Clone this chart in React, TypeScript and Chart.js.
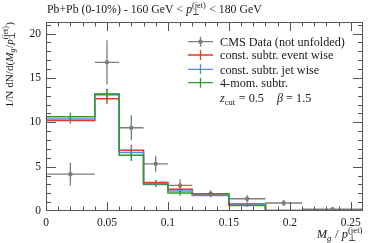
import React, { useEffect, useRef } from "react";
import { Chart, registerables } from "chart.js";

Chart.register(...registerables);

// ---- data ----
const binEdges = [0, 0.04, 0.06, 0.08, 0.1, 0.12, 0.15, 0.18, 0.21, 0.26];
const cmsData = [4.15, 16.75, 9.38, 5.32, 2.89, 1.95, 1.38, 0.9, 0.2];
const cmsErr = [1.3, 2.5, 1.42, 0.9, 0.7, 0.4, 0.4, 0.35, 0.2];
const eventWise = [10.2, 12.65, 6.86, 3.2, 2.44, 1.8, 0.78, 0.05, 0.02];
const eventWiseErr = [0.35, 0.6, 0.6, 0.3, 0.3, 0.2, 0.15, 0.05, 0.03];
const jetWise = [10.37, 13.2, 6.6, 3.0, 2.25, 1.76, 0.81, 0.05, 0.02];
const jetWiseErr = [0.35, 0.6, 0.6, 0.3, 0.3, 0.2, 0.15, 0.05, 0.03];
const fourMom = [10.63, 13.1, 6.29, 3.05, 2.02, 1.95, 0.62, 0.04, 0.02];
const fourMomErr = [0.45, 0.65, 0.65, 0.3, 0.3, 0.2, 0.15, 0.05, 0.03];

const xTicks = [0, 0.05, 0.1, 0.15, 0.2, 0.25];
const xTickLabels = ["0", "0.05", "0.1", "0.15", "0.2", "0.25"];
const yTicks = [0, 5, 10, 15, 20];
const yTickLabels = ["0", "5", "10", "15", "20"];
const xMinorStep = 0.01;
const yMinorStep = 1;
const xMin = 0;
const xMax = 0.26;
const yMin = 0;
const yMax = 21.3;

const legendLabels = [
  "CMS Data (not unfolded)",
  "const. subtr. event wise",
  "const. subtr. jet wise",
  "4-mom. subtr.",
];

// ---- styles ----
const GRAY = "rgb(125,125,125)";
const RED = "rgb(238,52,36)";
const BLUE = "rgb(84,136,240)";
const GREEN = "rgb(40,160,40)";
const TEXT = "#1a1a1a";
const AXIS = "#555";
const FAMILY = '"Liberation Serif", "DejaVu Serif", serif';

type Seg = { t?: string; it?: boolean; sub?: string; sup?: string; subIt?: boolean };

function fnt(size: number, it?: boolean) {
  return `${it ? "italic " : ""}${size}px ${FAMILY}`;
}

function segW(ctx: CanvasRenderingContext2D, s: Seg, size: number) {
  if (s.t !== undefined) {
    ctx.font = fnt(size, s.it);
    return ctx.measureText(s.t).width;
  }
  let w = 0;
  if (s.sub) {
    ctx.font = fnt(size * 0.7, s.subIt);
    w = Math.max(w, ctx.measureText(s.sub).width);
  }
  if (s.sup) {
    ctx.font = fnt(size * 0.7, false);
    w = Math.max(w, ctx.measureText(s.sup).width);
  }
  return w + 0.5;
}

function drawRich(
  ctx: CanvasRenderingContext2D,
  segs: Seg[],
  x: number,
  y: number,
  size: number,
  align: "left" | "right"
) {
  const total = segs.reduce((a, s) => a + segW(ctx, s, size), 0);
  let cx = align === "right" ? x - total : x;
  ctx.textAlign = "left";
  ctx.textBaseline = "alphabetic";
  ctx.fillStyle = TEXT;
  for (const s of segs) {
    const w = segW(ctx, s, size);
    if (s.t !== undefined) {
      ctx.font = fnt(size, s.it);
      ctx.fillText(s.t, cx, y);
    } else {
      if (s.sub) {
        ctx.font = fnt(size * 0.7, s.subIt);
        ctx.fillText(s.sub, cx, y + size * 0.22);
      }
      if (s.sup) {
        ctx.font = fnt(size * 0.7, false);
        ctx.fillText(s.sup, cx, y - size * 0.42);
      }
    }
    cx += w;
  }
}

function stepPoints(values: number[]) {
  return binEdges.map((x, i) => ({ x, y: values[Math.min(i, values.length - 1)] }));
}

const titleSegs: Seg[] = [
  { t: "Pb+Pb (0-10%) - 160 GeV < " },
  { t: "p", it: true },
  { sub: "⊥", sup: "(jet)" },
  { t: " < 180 GeV" },
];
const yTitleSegs: Seg[] = [
  { t: "1/N dN/d(" },
  { t: "M", it: true },
  { sub: "g", subIt: true },
  { t: "/" },
  { t: "p", it: true },
  { sub: "⊥", sup: "(jet)" },
  { t: ")" },
];
const xTitleSegs: Seg[] = [
  { t: "M", it: true },
  { sub: "g", subIt: true },
  { t: " / " },
  { t: "p", it: true },
  { sub: "⊥", sup: "(jet)" },
];

const rivetPlugin = {
  id: "rivet",
  beforeDatasetsDraw(chart: any) {
    const { ctx, scales, chartArea } = chart;
    const xs = scales.x;
    const ys = scales.y;
    ctx.save();
    ctx.beginPath();
    ctx.rect(chartArea.left, chartArea.top, chartArea.right - chartArea.left, chartArea.bottom - chartArea.top);
    ctx.clip();
    ctx.strokeStyle = GRAY;
    ctx.lineWidth = 1.3;
    cmsData.forEach((v, i) => {
      const x0 = xs.getPixelForValue(binEdges[i]);
      const x1 = xs.getPixelForValue(binEdges[i + 1]);
      const xc = xs.getPixelForValue((binEdges[i] + binEdges[i + 1]) / 2);
      const yc = ys.getPixelForValue(v);
      const ylo = ys.getPixelForValue(v - cmsErr[i]);
      const yhi = ys.getPixelForValue(v + cmsErr[i]);
      ctx.beginPath();
      ctx.moveTo(x0, yc);
      ctx.lineTo(x1, yc);
      ctx.moveTo(xc, ylo);
      ctx.lineTo(xc, yhi);
      ctx.stroke();
    });
    ctx.restore();
  },
  afterDatasetsDraw(chart: any) {
    const { ctx, scales, chartArea } = chart;
    const xs = scales.x;
    const ys = scales.y;
    ctx.save();
    ctx.beginPath();
    ctx.rect(chartArea.left, chartArea.top, chartArea.right - chartArea.left, chartArea.bottom - chartArea.top);
    ctx.clip();
    const sets: [number[], number[], string][] = [
      [eventWise, eventWiseErr, RED],
      [jetWise, jetWiseErr, BLUE],
      [fourMom, fourMomErr, GREEN],
    ];
    for (const [vals, errs, col] of sets) {
      ctx.strokeStyle = col;
      ctx.lineWidth = 1.3;
      vals.forEach((v, i) => {
        const xc = xs.getPixelForValue((binEdges[i] + binEdges[i + 1]) / 2);
        ctx.beginPath();
        ctx.moveTo(xc, ys.getPixelForValue(v - errs[i]));
        ctx.lineTo(xc, ys.getPixelForValue(v + errs[i]));
        ctx.stroke();
      });
    }
    ctx.restore();
  },
  afterDraw(chart: any) {
    const { ctx, scales, chartArea } = chart;
    const xs = scales.x;
    const ys = scales.y;
    const L = chartArea.left;
    const R = chartArea.right;
    const T = chartArea.top;
    const B = chartArea.bottom;
    ctx.save();
    // frame
    ctx.strokeStyle = AXIS;
    ctx.lineWidth = 1;
    ctx.strokeRect(Math.round(L) + 0.5, Math.round(T) + 0.5, Math.round(R - L) - 1, Math.round(B - T) - 1);
    // ticks
    ctx.beginPath();
    const nx = Math.round((xMax - xMin) / xMinorStep);
    for (let k = 0; k <= nx; k++) {
      const v = xMin + k * xMinorStep;
      const major = xTicks.some((t) => Math.abs(t - v) < 1e-9);
      const len = major ? 9 : 4.5;
      const px = Math.round(xs.getPixelForValue(v)) + 0.5;
      if (px <= L + 1 || px >= R - 1) continue;
      ctx.moveTo(px, B);
      ctx.lineTo(px, B - len);
      ctx.moveTo(px, T);
      ctx.lineTo(px, T + len);
    }
    const ny = Math.round((yMax - yMin) / yMinorStep);
    for (let k = 0; k <= ny; k++) {
      const v = yMin + k * yMinorStep;
      const major = yTicks.some((t) => Math.abs(t - v) < 1e-9);
      const len = major ? 10 : 5;
      const py = Math.round(ys.getPixelForValue(v)) + 0.5;
      if (py <= T + 1 || py >= B - 1) continue;
      ctx.moveTo(L, py);
      ctx.lineTo(L + len, py);
      ctx.moveTo(R, py);
      ctx.lineTo(R - len, py);
    }
    ctx.stroke();

    // title
    drawRich(ctx, titleSegs, L + 1, 12.5, 11.8, "left");
    // x title
    drawRich(ctx, xTitleSegs, R, 238, 12.5, "right");
    // y title (rotated)
    ctx.save();
    ctx.translate(13, T);
    ctx.rotate(-Math.PI / 2);
    drawRich(ctx, yTitleSegs, 0, 0, 11.2, "right");
    ctx.restore();

    // legend
    const lx0 = 188;
    const lx1 = 213;
    const lxc = (lx0 + lx1) / 2;
    const rows = [41.7, 55, 69.3, 82.7];
    const cols = [GRAY, RED, BLUE, GREEN];
    rows.forEach((ry, i) => {
      ctx.strokeStyle = cols[i];
      ctx.lineWidth = 1.3;
      ctx.beginPath();
      ctx.moveTo(lx0, ry);
      ctx.lineTo(lx1, ry);
      ctx.moveTo(lxc, ry - 5);
      ctx.lineTo(lxc, ry + 5);
      ctx.stroke();
      if (i === 0) {
        ctx.fillStyle = GRAY;
        ctx.beginPath();
        ctx.arc(lxc, ry, 2.2, 0, Math.PI * 2);
        ctx.fill();
      }
      drawRich(ctx, [{ t: legendLabels[i] }], 220, ry + 4.2, 12.2, "left");
    });
    drawRich(ctx, [{ t: "z", it: true }, { sub: "cut" }, { t: " = 0.5" }], 220, 102, 12.2, "left");
    drawRich(ctx, [{ t: "β", it: true }, { t: " = 1.5" }], 277, 102, 12.2, "left");
    ctx.restore();
  },
};

export default function App() {
  const ref = useRef<HTMLCanvasElement>(null);
  useEffect(() => {
    document.body.style.margin = "0";
    const canvas = ref.current;
    if (!canvas) return;
    const tickFont = { family: FAMILY, size: 11.5 };
    const chart = new Chart(canvas, {
      type: "line",
      data: {
        datasets: [
          {
            label: legendLabels[3],
            data: stepPoints(fourMom),
            stepped: true,
            borderColor: GREEN,
            borderWidth: 1.5,
            pointRadius: 0,
            fill: false,
          },
          {
            label: legendLabels[2],
            data: stepPoints(jetWise),
            stepped: true,
            borderColor: BLUE,
            borderWidth: 1.5,
            pointRadius: 0,
            fill: false,
          },
          {
            label: legendLabels[1],
            data: stepPoints(eventWise),
            stepped: true,
            borderColor: RED,
            borderWidth: 1.5,
            pointRadius: 0,
            fill: false,
          },
          {
            label: legendLabels[0],
            data: cmsData.map((y, i) => ({ x: (binEdges[i] + binEdges[i + 1]) / 2, y })),
            showLine: false,
            pointRadius: 2.2,
            pointStyle: "circle",
            backgroundColor: GRAY,
            borderColor: GRAY,
            borderWidth: 0,
          },
        ] as any,
      },
      options: {
        animation: false,
        responsive: false,
        devicePixelRatio: 1,
        layout: { padding: { top: 22, right: 11, left: 0, bottom: 0 } },
        plugins: {
          legend: { display: false },
          tooltip: { enabled: false },
          title: { display: false },
        },
        scales: {
          x: {
            type: "linear",
            min: xMin,
            max: xMax,
            grid: { display: false, drawTicks: false },
            border: { display: false },
            afterBuildTicks: (a: any) => {
              a.ticks = xTicks.map((v) => ({ value: v }));
            },
            afterFit: (s: any) => {
              s.height = 32;
            },
            ticks: {
              padding: 5,
              color: TEXT,
              font: tickFont,
              maxRotation: 0,
              autoSkip: false,
              callback: (v: any) => {
                const i = xTicks.indexOf(v);
                return i >= 0 ? xTickLabels[i] : "";
              },
            },
          },
          y: {
            type: "linear",
            min: yMin,
            max: yMax,
            grid: { display: false, drawTicks: false },
            border: { display: false },
            afterBuildTicks: (a: any) => {
              a.ticks = yTicks.map((v) => ({ value: v }));
            },
            afterFit: (s: any) => {
              s.width = 46;
            },
            ticks: {
              padding: 5,
              color: TEXT,
              font: tickFont,
              autoSkip: false,
              callback: (v: any) => {
                const i = yTicks.indexOf(v);
                return i >= 0 ? yTickLabels[i] : "";
              },
            },
          },
        },
      } as any,
      plugins: [rivetPlugin],
    });
    return () => chart.destroy();
  }, []);
  return (
    <div style={{ width: 374, height: 243 }}>
      <canvas ref={ref} width={374} height={243} style={{ display: "block" }} />
    </div>
  );
}
